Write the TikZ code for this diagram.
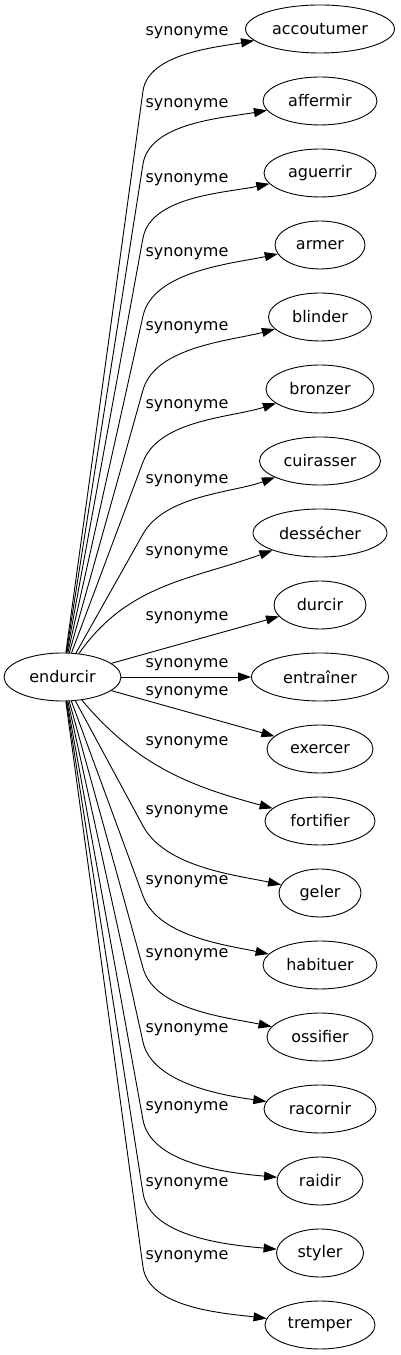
\documentclass[tikz,border=0pt]{standalone}
\usepackage{fontspec}
\setmainfont{DejaVu Sans}
\usetikzlibrary{shapes.geometric, arrows.meta}
\tikzset{mot/.style = {draw, ellipse, line width = 0.9pt, inner sep = 0, minimum height = 48pt, font = \fontsize{16}{19}\selectfont},
  lab/.style = {inner sep = 0, font = \fontsize{16}{19}\selectfont},
  syn/.style = {line width = 0.9pt, -{Triangle[length = 13pt, width = 9pt]}, looseness = 0.8}}

\begin{document}
\begin{tikzpicture}[x = 1pt, y = 1pt]
    \useasboundingbox (0, 0) rectangle (400, 1355);
    \node [mot, minimum width = 117pt] (endurcir) at (62.5, 678) {endurcir};
    \node [mot, minimum width = 149pt] (accoutumer) at (320, 1326) {accoutumer};
    \node [mot, minimum width = 114pt] (affermir) at (320, 1254) {affermir};
    \node [mot, minimum width = 112pt] (aguerrir) at (320, 1182) {aguerrir};
    \node [mot, minimum width = 90pt] (armer) at (320, 1110) {armer};
    \node [mot, minimum width = 103pt] (blinder) at (320, 1038) {blinder};
    \node [mot, minimum width = 108pt] (bronzer) at (320, 966) {bronzer};
    \node [mot, minimum width = 121pt] (cuirasser) at (320, 894) {cuirasser};
    \node [mot, minimum width = 134pt] (dessecher) at (320, 822) {dessécher};
    \node [mot, minimum width = 92pt] (durcir) at (320, 750) {durcir};
    \node [mot, minimum width = 137pt] (entrainer) at (320, 678) {entraîner};
    \node [mot, minimum width = 106pt] (exercer) at (320, 606) {exercer};
    \node [mot, minimum width = 110pt] (fortifier) at (320, 534) {fortifier};
    \node [mot, minimum width = 82pt] (geler) at (320, 462) {geler};
    \node [mot, minimum width = 114pt] (habituer) at (320, 390) {habituer};
    \node [mot, minimum width = 106pt] (ossifier) at (320, 318) {ossifier};
    \node [mot, minimum width = 112pt] (racornir) at (320, 246) {racornir};
    \node [mot, minimum width = 86pt] (raidir) at (320, 174) {raidir};
    \node [mot, minimum width = 87pt] (styler) at (320, 102) {styler};
    \node [mot, minimum width = 110pt] (tremper) at (320, 30) {tremper};

    \node [lab] (s0) at (187, 1322) {synonyme};
    \node [lab] (s1) at (187, 1250) {synonyme};
    \node [lab] (s2) at (187, 1175) {synonyme};
    \node [lab] (s3) at (187, 1101) {synonyme};
    \node [lab] (s4) at (187, 1027) {synonyme};
    \node [lab] (s5) at (187, 949) {synonyme};
    \node [lab] (s6) at (187, 874) {synonyme};
    \node [lab] (s7) at (187, 802) {synonyme};
    \node [lab] (s8) at (187, 737) {synonyme};
    \node [lab] (s9) at (187, 690) {synonyme};
    \node [lab] (s10) at (187, 662) {synonyme};
    \node [lab] (s11) at (187, 612) {synonyme};
    \node [lab] (s12) at (187, 543) {synonyme};
    \node [lab] (s13) at (187, 473) {synonyme};
    \node [lab] (s14) at (187, 400) {synonyme};
    \node [lab] (s15) at (187, 325) {synonyme};
    \node [lab] (s16) at (187, 247) {synonyme};
    \node [lab] (s17) at (187, 171) {synonyme};
    \node [lab] (s18) at (187, 98) {synonyme};

    \draw [syn] (endurcir) -- (143, 1264) to [out = 82, in = 190] (accoutumer);
    \draw [syn] (endurcir) -- (143, 1191) to [out = 81, in = 190] (affermir);
    \draw [syn] (endurcir) -- (143, 1117) to [out = 79.5, in = 192] (aguerrir);
    \draw [syn] (endurcir) -- (143, 1039) to [out = 77.4, in = 192] (armer);
    \draw [syn] (endurcir) -- (143, 965) to [out = 74.2, in = 195] (blinder);
    \draw [syn] (endurcir) -- (143, 893) to [out = 69.4, in = 198] (bronzer);
    \draw [syn] (endurcir) -- (143, 821) to [out = 60.5, in = 200] (cuirasser);
    \draw [syn] (endurcir) to [out = 55, in = 200, looseness = 1] (dessecher);
    \draw [syn] (endurcir) -- (durcir);
    \draw [syn] (endurcir) -- (entrainer);
    \draw [syn] (endurcir) -- (exercer);
    \draw [syn] (endurcir) to [out = -50, in = 165, looseness = 1] (fortifier);
    \draw [syn] (endurcir) -- (143, 529) to [out = -61.5, in = 168] (geler);
    \draw [syn] (endurcir) -- (143, 459) to [out = -69.7, in = 168] (habituer);
    \draw [syn] (endurcir) -- (143, 387) to [out = -74.4, in = 168] (ossifier);
    \draw [syn] (endurcir) -- (143, 313) to [out = -77.5, in = 172] (racornir);
    \draw [syn] (endurcir) -- (143, 235) to [out = -79.6, in = 175] (raidir);
    \draw [syn] (endurcir) -- (143, 162) to [out = -81.1, in = 175] (styler);
    \draw [syn] (endurcir) -- (143, 88) to [out = -82.2, in = 173] (tremper);
\end{tikzpicture}
\end{document}
